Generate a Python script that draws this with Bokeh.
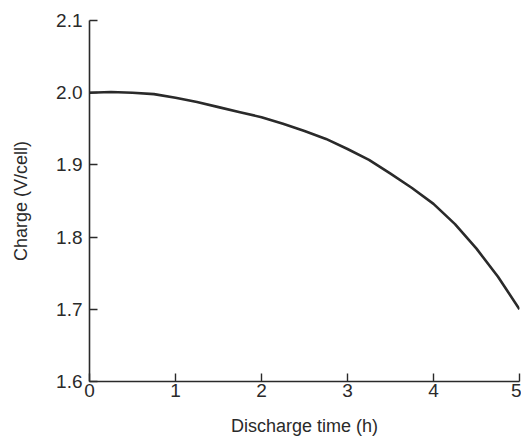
from bokeh.plotting import figure
from bokeh.models import FixedTicker, PrintfTickFormatter, Range1d
from bokeh.embed import file_html
from bokeh.resources import INLINE

# Discharge curve: cell voltage vs. time
time_h = [0, 0.25, 0.5, 0.75, 1.0, 1.25, 1.5, 1.75, 2.0, 2.25, 2.5, 2.75,
          3.0, 3.25, 3.5, 3.75, 4.0, 4.25, 4.5, 4.75, 5.0]
volts = [2.000, 2.001, 2.000, 1.998, 1.993, 1.987, 1.980, 1.973, 1.966, 1.957,
         1.947, 1.936, 1.922, 1.907, 1.888, 1.868, 1.846, 1.818, 1.784, 1.745,
         1.700]

x_ticks = [0, 1, 2, 3, 4, 5]
y_ticks = [1.6, 1.7, 1.8, 1.9, 2.0, 2.1]

FONT = "Liberation Sans"
INK = "#2a2a2a"

p = figure(width=521, height=442, output_backend="svg", toolbar_location=None,
           x_range=Range1d(0, 5.0), y_range=Range1d(1.6, 2.1),
           min_border_left=89, min_border_right=2, min_border_top=20,
           min_border_bottom=61)

p.line(time_h, volts, line_color=INK, line_width=2.6, line_join="round")

p.outline_line_color = None
p.xgrid.grid_line_color = None
p.ygrid.grid_line_color = None

for ax in (p.xaxis[0], p.yaxis[0]):
    ax.axis_line_color = INK
    ax.axis_line_width = 1.6
    ax.major_tick_line_color = INK
    ax.major_tick_line_width = 1.4
    ax.major_tick_in = 8
    ax.major_tick_out = 0
    ax.minor_tick_line_color = None
    ax.major_label_text_font = FONT
    ax.major_label_text_font_size = "19px"
    ax.major_label_text_color = INK
    ax.axis_label_text_font = FONT
    ax.axis_label_text_font_size = "18px"
    ax.axis_label_text_font_style = "normal"
    ax.axis_label_text_color = INK

p.xaxis.ticker = FixedTicker(ticks=x_ticks)
p.yaxis.ticker = FixedTicker(ticks=y_ticks)
p.yaxis.formatter = PrintfTickFormatter(format="%.1f")
p.xaxis.major_label_standoff = 2
p.yaxis.major_label_standoff = 7
p.xaxis.axis_label = "Discharge time (h)"
p.yaxis.axis_label = "Charge (V/cell)"
p.xaxis.axis_label_standoff = 16
p.yaxis.axis_label_standoff = 22

open("out.html", "w").write(file_html(p, INLINE))
